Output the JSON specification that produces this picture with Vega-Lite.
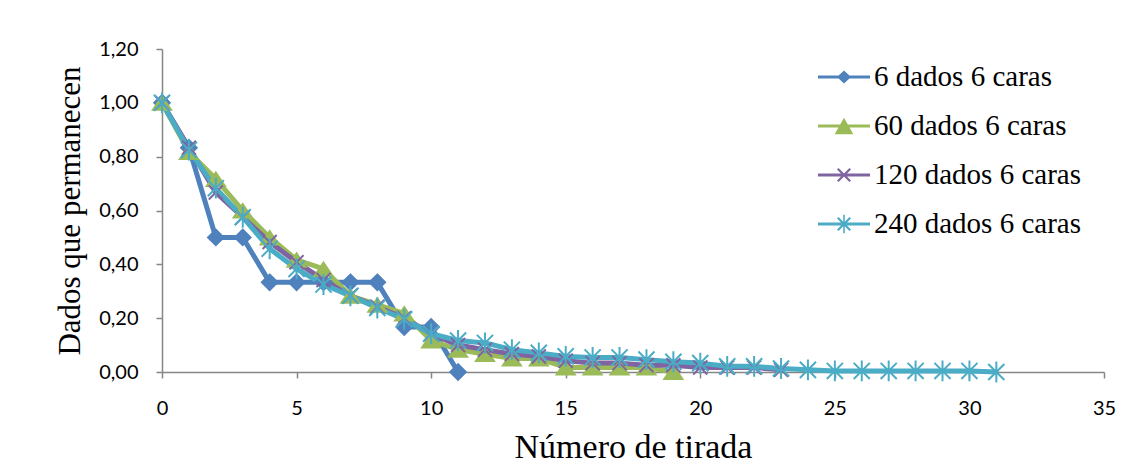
{
  "$schema": "https://vega.github.io/schema/vega-lite/v6.json",
  "width": 942,
  "height": 323,
  "autosize": {"type": "none"},
  "padding": {"left": 162, "top": 49, "right": 26, "bottom": 89},
  "background": "white",
  "config": {
    "view": {"stroke": null},
    "axis": {
      "domainColor": "#868686", "domainWidth": 1.5,
      "tickColor": "#868686", "tickWidth": 1.5, "tickSize": 6,
      "grid": false,
      "labelFontSize": 20, "labelColor": "#000000",
      "titleFont": "Liberation Serif", "titleFontWeight": "normal", "titleColor": "#000000", "titleFontSize": 32
    },
    "legend": {
      "orient": "none", "legendX": 656, "legendY": 2, "title": null, "padding": 0,
      "labelFont": "Liberation Serif", "labelFontSize": 29, "labelColor": "#000000", "labelOffset": 4,
      "symbolSize": 2704, "symbolStrokeWidth": 0, "rowPadding": 8, "labelLimit": 400, "symbolOpacity": 1
    }
  },
  "datasets": {
    "d": [
      {"series": "6 dados 6 caras", "x": 0, "y": 1},
      {"series": "6 dados 6 caras", "x": 1, "y": 0.833},
      {"series": "6 dados 6 caras", "x": 2, "y": 0.5},
      {"series": "6 dados 6 caras", "x": 3, "y": 0.5},
      {"series": "6 dados 6 caras", "x": 4, "y": 0.333},
      {"series": "6 dados 6 caras", "x": 5, "y": 0.333},
      {"series": "6 dados 6 caras", "x": 6, "y": 0.333},
      {"series": "6 dados 6 caras", "x": 7, "y": 0.333},
      {"series": "6 dados 6 caras", "x": 8, "y": 0.333},
      {"series": "6 dados 6 caras", "x": 9, "y": 0.167},
      {"series": "6 dados 6 caras", "x": 10, "y": 0.167},
      {"series": "6 dados 6 caras", "x": 11, "y": 0},
      {"series": "60 dados 6 caras", "x": 0, "y": 1},
      {"series": "60 dados 6 caras", "x": 1, "y": 0.817},
      {"series": "60 dados 6 caras", "x": 2, "y": 0.717},
      {"series": "60 dados 6 caras", "x": 3, "y": 0.6},
      {"series": "60 dados 6 caras", "x": 4, "y": 0.5},
      {"series": "60 dados 6 caras", "x": 5, "y": 0.417},
      {"series": "60 dados 6 caras", "x": 6, "y": 0.383},
      {"series": "60 dados 6 caras", "x": 7, "y": 0.283},
      {"series": "60 dados 6 caras", "x": 8, "y": 0.25},
      {"series": "60 dados 6 caras", "x": 9, "y": 0.217},
      {"series": "60 dados 6 caras", "x": 10, "y": 0.117},
      {"series": "60 dados 6 caras", "x": 11, "y": 0.083},
      {"series": "60 dados 6 caras", "x": 12, "y": 0.067},
      {"series": "60 dados 6 caras", "x": 13, "y": 0.05},
      {"series": "60 dados 6 caras", "x": 14, "y": 0.05},
      {"series": "60 dados 6 caras", "x": 15, "y": 0.017},
      {"series": "60 dados 6 caras", "x": 16, "y": 0.017},
      {"series": "60 dados 6 caras", "x": 17, "y": 0.017},
      {"series": "60 dados 6 caras", "x": 18, "y": 0.017},
      {"series": "60 dados 6 caras", "x": 19, "y": 0},
      {"series": "120 dados 6 caras", "x": 0, "y": 1},
      {"series": "120 dados 6 caras", "x": 1, "y": 0.833},
      {"series": "120 dados 6 caras", "x": 2, "y": 0.667},
      {"series": "120 dados 6 caras", "x": 3, "y": 0.575},
      {"series": "120 dados 6 caras", "x": 4, "y": 0.483},
      {"series": "120 dados 6 caras", "x": 5, "y": 0.408},
      {"series": "120 dados 6 caras", "x": 6, "y": 0.342},
      {"series": "120 dados 6 caras", "x": 7, "y": 0.283},
      {"series": "120 dados 6 caras", "x": 8, "y": 0.242},
      {"series": "120 dados 6 caras", "x": 9, "y": 0.2},
      {"series": "120 dados 6 caras", "x": 10, "y": 0.142},
      {"series": "120 dados 6 caras", "x": 11, "y": 0.1},
      {"series": "120 dados 6 caras", "x": 12, "y": 0.083},
      {"series": "120 dados 6 caras", "x": 13, "y": 0.067},
      {"series": "120 dados 6 caras", "x": 14, "y": 0.058},
      {"series": "120 dados 6 caras", "x": 15, "y": 0.042},
      {"series": "120 dados 6 caras", "x": 16, "y": 0.033},
      {"series": "120 dados 6 caras", "x": 17, "y": 0.033},
      {"series": "120 dados 6 caras", "x": 18, "y": 0.025},
      {"series": "120 dados 6 caras", "x": 19, "y": 0.025},
      {"series": "120 dados 6 caras", "x": 20, "y": 0.017},
      {"series": "120 dados 6 caras", "x": 21, "y": 0.017},
      {"series": "120 dados 6 caras", "x": 22, "y": 0.017},
      {"series": "120 dados 6 caras", "x": 23, "y": 0.008},
      {"series": "240 dados 6 caras", "x": 0, "y": 1},
      {"series": "240 dados 6 caras", "x": 1, "y": 0.825},
      {"series": "240 dados 6 caras", "x": 2, "y": 0.683},
      {"series": "240 dados 6 caras", "x": 3, "y": 0.575},
      {"series": "240 dados 6 caras", "x": 4, "y": 0.458},
      {"series": "240 dados 6 caras", "x": 5, "y": 0.383},
      {"series": "240 dados 6 caras", "x": 6, "y": 0.325},
      {"series": "240 dados 6 caras", "x": 7, "y": 0.283},
      {"series": "240 dados 6 caras", "x": 8, "y": 0.238},
      {"series": "240 dados 6 caras", "x": 9, "y": 0.196},
      {"series": "240 dados 6 caras", "x": 10, "y": 0.142},
      {"series": "240 dados 6 caras", "x": 11, "y": 0.117},
      {"series": "240 dados 6 caras", "x": 12, "y": 0.108},
      {"series": "240 dados 6 caras", "x": 13, "y": 0.083},
      {"series": "240 dados 6 caras", "x": 14, "y": 0.071},
      {"series": "240 dados 6 caras", "x": 15, "y": 0.058},
      {"series": "240 dados 6 caras", "x": 16, "y": 0.054},
      {"series": "240 dados 6 caras", "x": 17, "y": 0.054},
      {"series": "240 dados 6 caras", "x": 18, "y": 0.046},
      {"series": "240 dados 6 caras", "x": 19, "y": 0.038},
      {"series": "240 dados 6 caras", "x": 20, "y": 0.033},
      {"series": "240 dados 6 caras", "x": 21, "y": 0.021},
      {"series": "240 dados 6 caras", "x": 22, "y": 0.021},
      {"series": "240 dados 6 caras", "x": 23, "y": 0.013},
      {"series": "240 dados 6 caras", "x": 24, "y": 0.008},
      {"series": "240 dados 6 caras", "x": 25, "y": 0.004},
      {"series": "240 dados 6 caras", "x": 26, "y": 0.004},
      {"series": "240 dados 6 caras", "x": 27, "y": 0.004},
      {"series": "240 dados 6 caras", "x": 28, "y": 0.004},
      {"series": "240 dados 6 caras", "x": 29, "y": 0.004},
      {"series": "240 dados 6 caras", "x": 30, "y": 0.004},
      {"series": "240 dados 6 caras", "x": 31, "y": 0}
    ]
  },
  "data": {"name": "d"},
  "encoding": {
    "x": {
      "field": "x", "type": "quantitative",
      "scale": {"domain": [0, 35], "nice": false, "zero": false},
      "axis": {"values": [0, 5, 10, 15, 20, 25, 30, 35], "title": "Número de tirada", "labelFont": "Lato", "labelPadding": 20, "titlePadding": 12, "labelFlush": false, "titleFontSize": 34}
    },
    "y": {
      "field": "y", "type": "quantitative",
      "scale": {"domain": [0, 1.2], "nice": false},
      "axis": {"values": [0, 0.2, 0.4, 0.6, 0.8, 1.0, 1.2], "labelExpr": "replace(format(datum.value, '.2f'), '.', ',')", "title": "Dados que permanecen", "labelFont": "Lato", "labelPadding": 18, "titlePadding": 12, "titleFontSize": 31}
    }
  },
  "layer": [
    {
      "mark": {"type": "line", "strokeWidth": 5, "strokeCap": "round", "strokeJoin": "round"},
      "encoding": {
        "stroke": {
          "field": "series", "type": "nominal", "legend": null,
          "scale": {"domain": ["6 dados 6 caras", "60 dados 6 caras", "120 dados 6 caras", "240 dados 6 caras"], "range": ["#4F81BD", "#9BBB59", "#8064A2", "#4BACC6"]}
        }
      }
    },
    {
      "mark": {"type": "point", "filled": true, "opacity": 1, "strokeWidth": 2, "size": 361},
      "encoding": {
        "fill": {
          "field": "series", "type": "nominal", "legend": null,
          "scale": {"domain": ["6 dados 6 caras", "60 dados 6 caras", "120 dados 6 caras", "240 dados 6 caras"], "range": ["#4F81BD", "#9BBB59", "#8064A2", "#4BACC6"]}
        },
        "stroke": {
          "field": "series", "type": "nominal", "legend": null,
          "scale": {"domain": ["6 dados 6 caras", "60 dados 6 caras", "120 dados 6 caras", "240 dados 6 caras"], "range": ["#4F81BD", "#9BBB59", "#8064A2", "#4BACC6"]}
        },
        "shape": {
          "field": "series", "type": "nominal", "legend": null,
          "scale": {"domain": ["6 dados 6 caras", "60 dados 6 caras", "120 dados 6 caras", "240 dados 6 caras"],
            "range": ["M0,-0.82L0.82,0L0,0.82L-0.82,0Z", "M0,-0.68L0.95,0.74H-0.95Z", "M-0.74,-0.74L0.74,0.74M-0.74,0.74L0.74,-0.74", "M-0.85,-0.85L0.85,0.85M-0.85,0.85L0.85,-0.85M0,-1.1V1.1"]}
        }
      }
    },
    {
      "transform": [{"filter": "datum.x < 0"}],
      "mark": {"type": "point", "filled": true, "opacity": 1},
      "encoding": {
        "color": {
          "field": "series", "type": "nominal",
          "scale": {"domain": ["6 dados 6 caras", "60 dados 6 caras", "120 dados 6 caras", "240 dados 6 caras"], "range": ["#4F81BD", "#9BBB59", "#8064A2", "#4BACC6"]},
          "legend": {"orient": "none", "legendX": 656, "legendY": 2, "title": null, "labelFont": "Liberation Serif", "labelFontSize": 29, "labelColor": "#000000", "rowPadding": 8}
        },
        "shape": {
          "field": "series", "type": "nominal",
          "scale": {"domain": ["6 dados 6 caras", "60 dados 6 caras", "120 dados 6 caras", "240 dados 6 caras"],
            "range": [
              "M-1,-0.06H1V0.06H-1ZM0,-0.25L0.27,0L0,0.25L-0.27,0Z",
              "M-1,-0.06H1V0.06H-1ZM0,-0.32L0.36,0.32H-0.36Z",
              "M-1,-0.06H1V0.06H-1ZM-0.21,-0.27L0.27,0.21L0.21,0.27L-0.27,-0.21ZM-0.27,0.21L0.21,-0.27L0.27,-0.21L-0.21,0.27Z",
              "M-1,-0.06H1V0.06H-1ZM-0.21,-0.27L0.27,0.21L0.21,0.27L-0.27,-0.21ZM-0.27,0.21L0.21,-0.27L0.27,-0.21L-0.21,0.27ZM-0.03,-0.36H0.03V0.36H-0.03Z"
            ]},
          "legend": {"orient": "none", "legendX": 656, "legendY": 2, "title": null, "labelFont": "Liberation Serif", "labelFontSize": 29, "labelColor": "#000000", "rowPadding": 8}
        }
      }
    }
  ],
  "resolve": {"scale": {"shape": "independent", "color": "independent"}}
}
